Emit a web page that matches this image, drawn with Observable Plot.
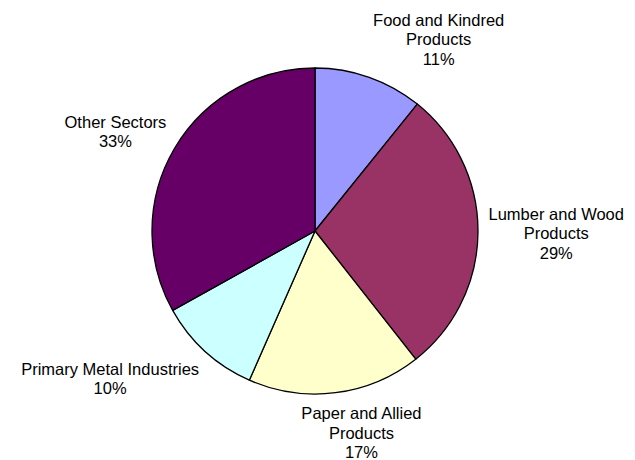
<!DOCTYPE html>
<html><head><meta charset="utf-8">
<script src="https://cdn.jsdelivr.net/npm/d3@7"></script>
<script src="https://cdn.jsdelivr.net/npm/@observablehq/plot@0.6"></script>
<style>body{margin:0;background:#fff}</style>
</head><body><div id="chart"></div>
<script>
// Data
const sectors = ["Food and Kindred Products", "Lumber and Wood Products", "Paper and Allied Products", "Primary Metal Industries", "Other Sectors"];
const labelLines = [["Food and Kindred", "Products"], ["Lumber and Wood", "Products"], ["Paper and Allied", "Products"], ["Primary Metal Industries"], ["Other Sectors"]];
const shares = [10.8, 28.6, 17.2, 10.3, 33.1];
const colors = ["#9999FF", "#993366", "#FFFFCC", "#CCFFFF", "#660066"];

// Layout
const W = 635, H = 460, cx = 315, cy = 231, R = 163, gap = 10;
const fontSize = 16.5, lineH = 19.5, font = "Arial, 'Liberation Sans', sans-serif";

const total = d3.sum(shares);
const data = sectors.map((s, i) => ({sector: s, share: shares[i], lines: labelLines[i]}));
const arcs = d3.pie().sort(null).value(d => d.share)(data);

const ctx = document.createElement("canvas").getContext("2d");
ctx.font = `${fontSize}px ${font}`;
const clamp = v => Math.max(-1, Math.min(1, v));

const labels = arcs.map(a => {
  const d = a.data;
  const txt = [...d.lines, Math.round(d.share / total * 100) + "%"];
  const w = d3.max(txt, t => ctx.measureText(t).width);
  const h = txt.length * lineH;
  const m = (a.startAngle + a.endAngle) / 2;
  const px = cx + (R + gap) * Math.sin(m);
  const py = cy - (R + gap) * Math.cos(m);
  return {
    text: txt.join("\n"),
    x: px + (w / 2) * clamp(Math.sin(m) * 3.2),
    y: py + (h / 2) * clamp(-Math.cos(m) * 1.3)
  };
});

const arcGen = d3.arc().innerRadius(0).outerRadius(R);

const chart = Plot.plot({
  width: W, height: H, margin: 0,
  x: {domain: [0, W], range: [0, W], axis: null},
  y: {domain: [0, H], range: [0, H], axis: null},
  color: {domain: sectors, range: colors},
  style: {background: "#fff"},
  marks: [
    Plot.dot(data, {
      x: () => cx, y: () => cy, fill: "sector",
      render: (index, scales, values) => {
        const g = d3.create("svg:g");
        for (const i of index) {
          g.append("path")
            .attr("d", arcGen(arcs[i]))
            .attr("transform", `translate(${values.x[i]},${values.y[i]})`)
            .attr("fill", values.fill[i])
            .attr("stroke", "#000")
            .attr("stroke-width", 1.3)
            .attr("stroke-linejoin", "round");
        }
        return g.node();
      }
    }),
    Plot.text(labels, {
      x: "x", y: "y", text: "text",
      fontSize, fontFamily: font, fill: "#000",
      lineHeight: lineH / fontSize, lineAnchor: "middle", textAnchor: "middle"
    })
  ]
});
document.getElementById("chart").append(chart);
</script>
</body></html>
